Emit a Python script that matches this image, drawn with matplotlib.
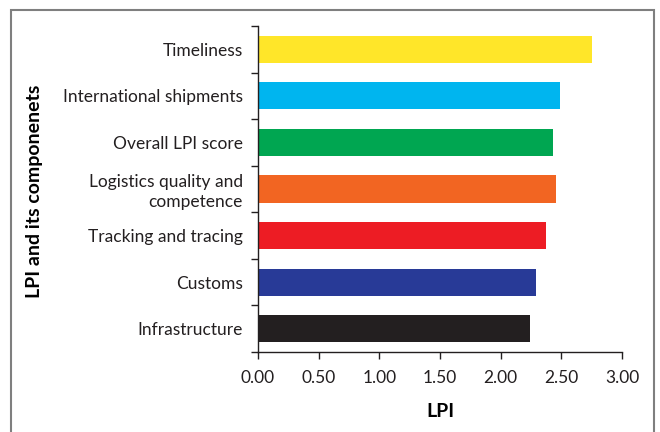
import numpy as np
import matplotlib; matplotlib.use("Agg")
import matplotlib.pyplot as plt
from matplotlib.patches import Rectangle

# bottom to top
categories = ["Infrastructure", "Customs", "Tracking and tracing",
              "Logistics quality and\ncompetence", "Overall LPI score",
              "International shipments", "Timeliness"]
values = [2.24, 2.29, 2.37, 2.46, 2.43, 2.49, 2.75]
colors = ["#231F20", "#283A97", "#ED1C24", "#F26522", "#00A651", "#00B5EF", "#FFE629"]
xticks = [0.0, 0.5, 1.0, 1.5, 2.0, 2.5, 3.0]

plt.rcParams["font.family"] = ["Lato", "DejaVu Sans"]
fig = plt.figure(figsize=(6.6, 4.32), dpi=100)
ax = fig.add_axes([258/660, 1-352/432, (622-258)/660, (352-26)/432])

# outer frame (open at the bottom)
fig.patches.append(Rectangle((11/660, -0.1), (654-11)/660, 1.1-10.5/432, transform=fig.transFigure,
                             fill=False, ec="#7f7f7f", lw=1.5))

y = np.arange(len(categories))
ax.barh(y, values, height=0.58, color=colors)
ax.set_xlim(0, 3)
ax.set_ylim(-0.5, len(categories)-0.5)
ax.set_xticks(xticks)
ax.set_xticklabels([f"{v:.2f}" for v in xticks], fontsize=12.5, color="#231F20")
ax.set_yticks(np.arange(-0.5, len(categories)))
ax.set_yticklabels([])
ax.set_yticks(y, minor=True)
ax.set_yticklabels(categories, minor=True, fontsize=12.5, color="#231F20", linespacing=1.3)
ax.tick_params(axis="y", which="minor", length=0, pad=11)
ax.tick_params(axis="y", which="major", length=5, width=1, color="#231F20", direction="out")
ax.tick_params(axis="x", length=5, width=1, color="#231F20", direction="out", pad=8)
for s in ["top", "right"]:
    ax.spines[s].set_visible(False)
for s in ["left", "bottom"]:
    ax.spines[s].set_color("#231F20"); ax.spines[s].set_linewidth(1)

ax.set_xlabel("LPI", fontsize=14, weight="bold", labelpad=12)
fig.text(35/660, 1-191/432, "LPI and its componenets", rotation=90, fontsize=14,
         weight="bold", ha="center", va="center")

fig.savefig("out.png", dpi=100)
